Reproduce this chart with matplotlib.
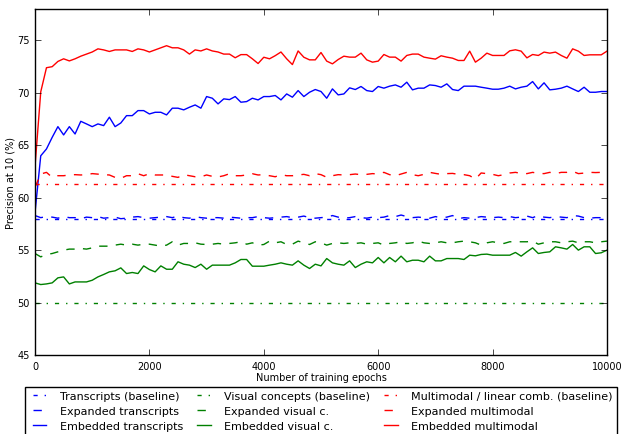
import numpy as np
import matplotlib
matplotlib.use("Agg")
import matplotlib.pyplot as plt

plt.style.use("classic")
plt.rcParams["font.family"] = ["DejaVu Sans"]
plt.rcParams["font.size"] = 7
plt.rcParams["figure.facecolor"] = "white"
plt.rcParams["savefig.facecolor"] = "white"

epochs = np.arange(0, 10001, 100)

# baselines (constant)
transcripts_base = 58.0
visual_base = 50.0
multimodal_base = 61.3

expanded_transcripts = [
    58.30, 58.10, 58.20, 58.15, 58.05, 58.20, 58.10, 58.10, 58.00, 58.15,
    58.10, 58.20, 58.05, 58.10, 58.15, 58.00, 58.05, 58.15, 58.20, 58.10,
    58.05, 58.10, 58.15, 58.20, 58.10, 58.25, 58.10, 58.05, 58.20, 58.10,
    58.05, 58.10, 58.10, 58.05, 58.15, 58.10, 58.05, 58.10, 58.10, 58.20,
    58.10, 58.05, 58.10, 58.15, 58.20, 58.10, 58.15, 58.25, 58.10, 58.05,
    58.10, 58.15, 58.30, 58.15, 58.05, 58.10, 58.20, 58.10, 58.05, 58.15,
    58.10, 58.15, 58.30, 58.20, 58.35, 58.20, 58.10, 58.15, 58.10, 58.05,
    58.20, 58.10, 58.15, 58.30, 58.00, 58.10, 58.05, 58.10, 58.20, 58.15,
    58.10, 58.15, 58.10, 58.20, 58.10, 58.15, 58.25, 58.10, 58.30, 58.15,
    58.10, 58.20, 58.15, 58.10, 58.30, 58.25, 58.10, 58.05, 58.10, 58.10,
    58.10]

embedded_transcripts = [
    58.6, 64.0, 64.65, 65.76, 66.78, 65.99, 66.78, 66.08, 67.29, 67.04,
    66.78, 67.04, 66.88, 67.68, 66.78, 67.13, 67.83, 67.83, 68.31, 68.31,
    67.99, 68.15, 68.15, 67.9, 68.54, 68.54, 68.38, 68.63, 68.85, 68.54,
    69.65, 69.49, 68.95, 69.43, 69.36, 69.65, 69.11, 69.17, 69.49, 69.33,
    69.65, 69.65, 69.75, 69.33, 69.9, 69.59, 70.22, 69.65, 70.06, 70.32,
    70.13, 69.49, 70.38, 69.81, 69.9, 70.48, 70.32, 70.61, 70.22, 70.13,
    70.61, 70.45, 70.64, 70.76, 70.54, 71.02, 70.29, 70.45, 70.45, 70.76,
    70.7, 70.54, 70.86, 70.32, 70.22, 70.64, 70.64, 70.64, 70.54, 70.45,
    70.35, 70.35, 70.45, 70.64, 70.38, 70.54, 70.64, 71.08, 70.38, 70.96,
    70.29, 70.35, 70.45, 70.64, 70.38, 70.13, 70.54, 70.06, 70.06, 70.13,
    70.13]

expanded_visual = [
    54.68, 54.36, 54.59, 54.68, 54.84, 55.0, 55.1, 55.1, 55.16, 55.1,
    55.22, 55.38, 55.38, 55.38, 55.48, 55.57, 55.48, 55.57, 55.48, 55.57,
    55.57, 55.48, 55.38, 55.48, 55.8, 55.48, 55.64, 55.64, 55.7, 55.57,
    55.54, 55.57, 55.64, 55.57, 55.64, 55.7, 55.8, 55.57, 55.7, 55.48,
    55.54, 55.86, 55.7, 55.8, 55.54, 55.57, 55.86, 55.7, 55.54, 55.8,
    55.7, 55.48, 55.64, 55.7, 55.64, 55.7, 55.64, 55.7, 55.57, 55.64,
    55.7, 55.48, 55.64, 55.7, 55.8, 55.64, 55.7, 55.86, 55.7, 55.64,
    55.7, 55.8, 55.7, 55.7, 55.8, 55.86, 55.8, 55.7, 55.48, 55.7,
    55.8, 55.7, 55.64, 55.8, 55.8, 55.8, 55.8, 55.86, 55.57, 55.7,
    55.8, 55.8, 55.7, 55.8, 55.86, 55.7, 55.8, 55.8, 55.7, 55.8,
    55.86]

embedded_visual = [
    51.88, 51.72, 51.78, 51.88, 52.36, 52.45, 51.78, 51.97, 51.97, 51.97,
    52.13, 52.45, 52.68, 52.93, 53.03, 53.31, 52.77, 52.87, 52.77, 53.5,
    53.15, 52.93, 53.5, 53.18, 53.18, 53.89, 53.66, 53.57, 53.34, 53.66,
    53.18, 53.57, 53.57, 53.57, 53.57, 53.79, 54.11, 54.11, 53.47, 53.47,
    53.47, 53.57, 53.66, 53.79, 53.66, 53.57, 53.98, 53.57, 53.25, 53.66,
    53.5, 54.2, 53.79, 53.66, 53.57, 53.98, 53.34, 53.66, 53.89, 53.79,
    54.3, 53.79, 54.3, 53.89, 54.43, 53.89, 54.04, 54.04, 53.89, 54.43,
    53.98, 53.98, 54.2, 54.2, 54.2, 54.11, 54.52, 54.46, 54.59, 54.62,
    54.52, 54.52, 54.52, 54.52, 54.78, 54.43, 54.84, 55.22, 54.68, 54.78,
    54.84, 55.32, 55.22, 55.1, 55.54, 55.0, 55.32, 55.32, 54.68, 54.75,
    55.0]

expanded_multimodal = [
    61.0, 62.26, 62.42, 61.94, 62.1, 62.1, 62.17, 62.2, 62.17, 62.2,
    62.3, 62.25, 62.2, 62.17, 61.94, 61.85, 62.1, 62.1, 62.29, 62.1,
    62.29, 62.17, 62.17, 62.17, 62.04, 61.94, 62.2, 62.1, 62.0, 62.0,
    62.17, 62.04, 61.98, 62.1, 62.29, 62.1, 62.1, 62.17, 62.29, 62.17,
    62.2, 62.1, 62.0, 62.2, 62.1, 62.1, 62.17, 62.23, 62.1, 62.3,
    62.2, 61.95, 62.1, 62.2, 62.17, 62.2, 62.26, 62.2, 62.23, 62.3,
    62.26, 62.42, 62.2, 62.1, 62.26, 62.42, 62.2, 62.1, 62.23, 62.42,
    62.32, 62.23, 62.3, 62.32, 62.23, 62.2, 62.1, 61.78, 62.36, 62.3,
    62.23, 62.1, 62.2, 62.36, 62.42, 62.32, 62.3, 62.42, 62.32, 62.3,
    62.42, 62.3, 62.42, 62.42, 62.52, 62.3, 62.35, 62.42, 62.4, 62.42,
    62.42]

embedded_multimodal = [
    63.0, 70.1, 72.4, 72.5, 73.0, 73.25, 73.05, 73.25, 73.5, 73.7,
    73.9, 74.2, 74.1, 73.95, 74.1, 74.1, 74.1, 73.95, 74.2, 74.1,
    73.9, 74.1, 74.3, 74.5, 74.3, 74.3, 74.1, 73.7, 74.1, 74.0,
    74.2, 74.0, 73.9, 73.7, 73.7, 73.35, 73.65, 73.65, 73.25, 72.8,
    73.4, 73.25, 73.55, 73.9, 73.25, 72.7, 74.0, 73.4, 73.15, 73.15,
    73.85, 73.03, 72.77, 73.18, 73.5, 73.41, 73.41, 73.79, 73.15, 72.93,
    73.03, 73.66, 73.41, 73.41, 73.03, 73.57, 73.7, 73.7, 73.41, 73.31,
    73.22, 73.54, 73.41, 73.31, 73.09, 73.09, 73.98, 72.93, 73.31, 73.79,
    73.57, 73.57, 73.57, 74.01, 74.11, 73.98, 73.34, 73.66, 73.57, 73.89,
    73.79, 73.89, 73.57, 73.31, 74.2, 73.98, 73.57, 73.63, 73.63, 73.63,
    73.98]

ends = [epochs[0], epochs[-1]]

fig = plt.figure(figsize=(6.21, 4.35), dpi=100)
ax = fig.add_axes([0.0564, 0.1816, 0.921, 0.7954])

ax.plot(ends, [transcripts_base] * 2, "b-.", label="Transcripts (baseline)")
ax.plot(epochs, expanded_transcripts, "b--", label="Expanded transcripts")
ax.plot(epochs, embedded_transcripts, "b-", label="Embedded transcripts")
ax.plot(ends, [visual_base] * 2, "g-.", label="Visual concepts (baseline)")
ax.plot(epochs, expanded_visual, "g--", label="Expanded visual c.")
ax.plot(epochs, embedded_visual, "g-", label="Embedded visual c.")
ax.plot(ends, [multimodal_base] * 2, "r-.", label="Multimodal / linear comb. (baseline)")
ax.plot(epochs, expanded_multimodal, "r--", label="Expanded multimodal")
ax.plot(epochs, embedded_multimodal, "r-", label="Embedded multimodal")

ax.set_xlim(0, 10000)
ax.set_ylim(45, 78)
ax.set_xticks([0, 2000, 4000, 6000, 8000, 10000])
ax.set_yticks([45, 50, 55, 60, 65, 70, 75])
ax.set_xlabel("Number of training epochs", labelpad=1)
ax.set_ylabel("Precision at 10 (%)", labelpad=1)

ax.legend(loc="upper center", bbox_to_anchor=(0.5, -0.075), ncol=3,
          fontsize=8, handlelength=1.8, handletextpad=0.9, columnspacing=1.0,
          borderpad=0.4, labelspacing=0.45)

fig.savefig("out.png", dpi=100)
